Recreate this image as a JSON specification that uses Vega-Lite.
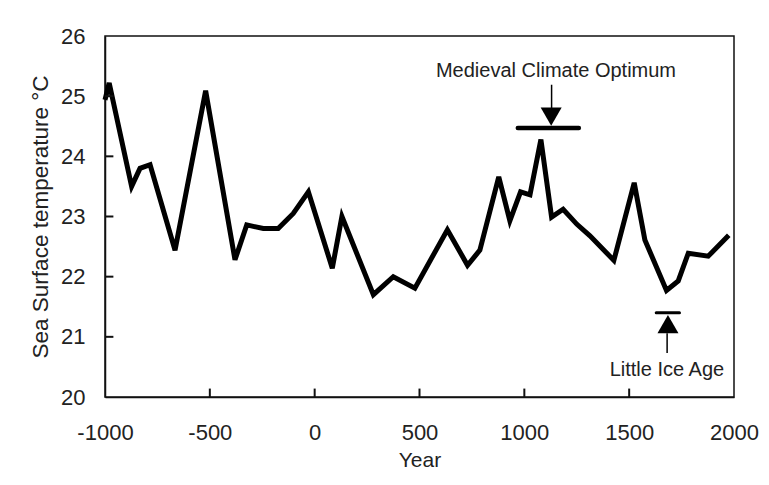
{
  "$schema": "https://vega.github.io/schema/vega-lite/v6.json",
  "width": 629,
  "height": 361,
  "autosize": {"type": "none"},
  "padding": {"left": 105, "top": 36, "right": 35, "bottom": 88},
  "background": "white",
  "config": {
    "font": "Liberation Sans",
    "view": {"stroke": "#111", "strokeWidth": 1.5},
    "axis": {
      "grid": false,
      "domainColor": "#111",
      "domainWidth": 1.5,
      "labelFont": "Liberation Sans",
      "labelFontSize": 22,
      "labelColor": "#222",
      "titleFont": "Liberation Sans",
      "titleFontSize": 21,
      "titleFontWeight": "normal",
      "titleColor": "#222"
    }
  },
  "datasets": {
    "series": [
      {"year": -1000, "sst": 24.94},
      {"year": -980, "sst": 25.22},
      {"year": -873, "sst": 23.5},
      {"year": -833, "sst": 23.8},
      {"year": -785, "sst": 23.86},
      {"year": -666, "sst": 22.44},
      {"year": -520, "sst": 25.09},
      {"year": -380, "sst": 22.28},
      {"year": -324, "sst": 22.86},
      {"year": -245, "sst": 22.8},
      {"year": -174, "sst": 22.8},
      {"year": -102, "sst": 23.05},
      {"year": -30, "sst": 23.41},
      {"year": 84, "sst": 22.14},
      {"year": 130, "sst": 23.0},
      {"year": 280, "sst": 21.7},
      {"year": 375, "sst": 22.0},
      {"year": 478, "sst": 21.81},
      {"year": 633, "sst": 22.78},
      {"year": 729, "sst": 22.19},
      {"year": 788, "sst": 22.44},
      {"year": 878, "sst": 23.66},
      {"year": 931, "sst": 22.93},
      {"year": 982, "sst": 23.41},
      {"year": 1027, "sst": 23.36},
      {"year": 1079, "sst": 24.28},
      {"year": 1130, "sst": 22.99},
      {"year": 1185, "sst": 23.12},
      {"year": 1251, "sst": 22.87},
      {"year": 1313, "sst": 22.68},
      {"year": 1427, "sst": 22.27},
      {"year": 1524, "sst": 23.56},
      {"year": 1575, "sst": 22.61},
      {"year": 1678, "sst": 21.77},
      {"year": 1734, "sst": 21.93},
      {"year": 1782, "sst": 22.39},
      {"year": 1877, "sst": 22.34},
      {"year": 1975, "sst": 22.69}
    ],
    "xticks": [
      {"year": -500}, {"year": 0}, {"year": 500}, {"year": 1000}, {"year": 1500}
    ],
    "yticks": [
      {"sst": 21}, {"sst": 22}, {"sst": 23}, {"sst": 24}, {"sst": 25}
    ],
    "bars": [
      {"name": "MCO", "x1": 969, "x2": 1260, "y": 24.47, "w": 4.5},
      {"name": "LIA", "x1": 1629, "x2": 1740, "y": 21.4, "w": 3}
    ],
    "shafts": [
      {"name": "MCO", "x": 1130, "y1": 25.19, "y2": 24.8},
      {"name": "LIA", "x": 1681, "y1": 21.06, "y2": 20.73}
    ],
    "arrows": [
      {"name": "MCO", "x": 1128, "y": 24.66, "shape": "triangle-down"},
      {"name": "LIA", "x": 1685, "y": 21.21, "shape": "triangle-up"}
    ],
    "labels": [
      {"name": "Medieval Climate Optimum", "x": 1151, "y": 25.42},
      {"name": "Little Ice Age", "x": 1680, "y": 20.45}
    ]
  },
  "layer": [
    {
      "data": {"name": "series"},
      "mark": {"type": "line", "color": "black", "strokeWidth": 5, "strokeJoin": "miter"},
      "encoding": {
        "x": {
          "field": "year", "type": "quantitative",
          "scale": {"domain": [-1000, 2000], "nice": false, "zero": false},
          "axis": {"orient": "bottom", "title": "Year", "values": [-1000, -500, 0, 500, 1000, 1500, 2000], "ticks": false, "labelExpr": "datum.value + ''", "labelPadding": 25, "titlePadding": 6, "labelFlush": false}
        },
        "y": {
          "field": "sst", "type": "quantitative",
          "scale": {"domain": [20, 26], "nice": false, "zero": false},
          "axis": {"orient": "left", "title": "Sea Surface temperature °C", "titleFontSize": 22.5, "values": [20, 21, 22, 23, 24, 25, 26], "ticks": false, "labelExpr": "datum.value + ''", "labelPadding": 20, "titlePadding": 8, "labelFlush": false}
        }
      }
    },
    {
      "data": {"name": "xticks"},
      "mark": {"type": "rule", "color": "#111", "strokeWidth": 2},
      "encoding": {
        "x": {"field": "year", "type": "quantitative"},
        "y": {"datum": 20, "type": "quantitative"},
        "y2": {"datum": 20.14}
      }
    },
    {
      "data": {"name": "yticks"},
      "mark": {"type": "rule", "color": "#111", "strokeWidth": 2},
      "encoding": {
        "y": {"field": "sst", "type": "quantitative"},
        "x": {"datum": -1000, "type": "quantitative"},
        "x2": {"datum": -960}
      }
    },
    {
      "mark": {"type": "rule", "color": "#111", "strokeWidth": 1.5},
      "encoding": {
        "y": {"datum": 23, "type": "quantitative"}
      }
    },
    {
      "data": {"name": "bars"},
      "mark": {"type": "rule", "color": "black", "strokeCap": "round"},
      "encoding": {
        "x": {"field": "x1", "type": "quantitative"},
        "x2": {"field": "x2"},
        "y": {"field": "y", "type": "quantitative"},
        "strokeWidth": {"field": "w", "type": "quantitative", "scale": null}
      }
    },
    {
      "data": {"name": "shafts"},
      "mark": {"type": "rule", "color": "black", "strokeWidth": 1.5},
      "encoding": {
        "x": {"field": "x", "type": "quantitative"},
        "y": {"field": "y1", "type": "quantitative"},
        "y2": {"field": "y2"}
      }
    },
    {
      "data": {"name": "arrows"},
      "mark": {"type": "point", "filled": true, "color": "black", "size": 441, "opacity": 1},
      "encoding": {
        "x": {"field": "x", "type": "quantitative"},
        "y": {"field": "y", "type": "quantitative"},
        "shape": {"field": "shape", "type": "nominal", "scale": null}
      }
    },
    {
      "data": {"name": "labels"},
      "mark": {"type": "text", "font": "Liberation Sans", "fontSize": 20, "color": "#222", "align": "center", "baseline": "middle"},
      "encoding": {
        "x": {"field": "x", "type": "quantitative"},
        "y": {"field": "y", "type": "quantitative"},
        "text": {"field": "name"}
      }
    }
  ]
}
